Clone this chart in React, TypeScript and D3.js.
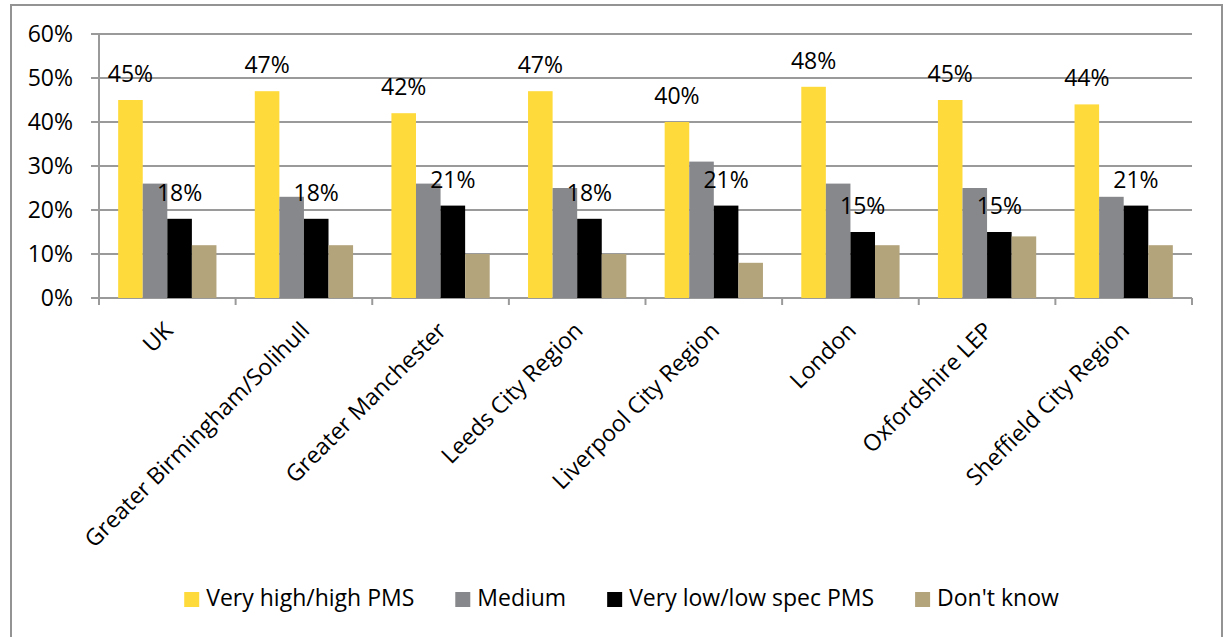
import React from "react";
import * as d3 from "d3";

const categories = [
  "UK",
  "Greater Birmingham/Solihull",
  "Greater Manchester",
  "Leeds City Region",
  "Liverpool City Region",
  "London",
  "Oxfordshire LEP",
  "Sheffield City Region",
];

const seriesNames = ["Very high/high PMS", "Medium", "Very low/low spec PMS", "Don't know"];
const seriesColors = ["#FFDA3B", "#87888C", "#000000", "#B3A47C"];

const veryHigh = [0.45, 0.47, 0.42, 0.47, 0.40, 0.48, 0.45, 0.44];
const medium = [0.26, 0.23, 0.26, 0.25, 0.31, 0.26, 0.25, 0.23];
const veryLow = [0.18, 0.18, 0.21, 0.18, 0.21, 0.15, 0.15, 0.21];
const dontKnow = [0.12, 0.12, 0.10, 0.10, 0.08, 0.12, 0.14, 0.12];

const seriesValues = [veryHigh, medium, veryLow, dontKnow];
// series that carry value labels above their bars
const labelledSeries = [0, 2];

const yTicks = [0, 0.1, 0.2, 0.3, 0.4, 0.5, 0.6];

const FONT = "'Open Sans', sans-serif";
const FS = 23;
const GRID = "#9A9A9A";

function measure(text: string): number {
  const c = document.createElement("canvas").getContext("2d");
  if (!c) return text.length * FS * 0.5;
  c.font = `${FS}px 'Open Sans'`;
  return c.measureText(text).width;
}

export default function App() {
  const left = 99;
  const right = 1192;
  const top = 34;
  const bottom = 298;

  const x0 = d3.scaleBand<string>().domain(categories).range([left, right]).padding(0);
  const x1 = d3
    .scaleBand<number>()
    .domain(d3.range(seriesNames.length))
    .range([0, x0.bandwidth()])
    .paddingInner(0)
    .paddingOuter(0.78);
  const y = d3.scaleLinear().domain([0, 0.6]).range([bottom, top]);
  const pct = d3.format(".0%");

  // legend layout
  const keySize = 15;
  const keyGap = 7;
  const itemGap = 41;
  const widths = seriesNames.map(measure);
  const totalW = d3.sum(widths) + seriesNames.length * (keySize + keyGap) + itemGap * (seriesNames.length - 1);
  let lx = 621.5 - totalW / 2;
  const legendItems = seriesNames.map((name, i) => {
    const item = { name, color: seriesColors[i], x: lx };
    lx += keySize + keyGap + widths[i] + itemGap;
    return item;
  });

  const boundaries = [...categories.map((c) => x0(c) as number), right];

  return (
    <svg
      width={1224}
      height={637}
      style={{ position: "absolute", left: 0, top: 0, display: "block", background: "#fff" }}
      fontFamily={FONT}
    >
      {/* chart frame; its lower edge runs past the visible area */}
      <rect x={11} y={5} width={1211} height={640} fill="#fff" stroke="#939393" strokeWidth={2} />

      {/* gridlines and y axis labels */}
      {yTicks.map((t) => (
        <g key={t}>
          <line x1={91} x2={right} y1={y(t)} y2={y(t)} stroke={GRID} strokeWidth={2} />
          <text x={73} y={y(t)} dy="0.35em" textAnchor="end" fontSize={FS} fill="#000">
            {pct(t)}
          </text>
        </g>
      ))}
      <line x1={left} x2={left} y1={top} y2={bottom + 7} stroke={GRID} strokeWidth={2} />
      {boundaries.map((bx, i) => (
        <line key={i} x1={bx} x2={bx} y1={bottom} y2={bottom + 7} stroke={GRID} strokeWidth={2} />
      ))}

      {/* bars */}
      {categories.map((cat, ci) => (
        <g key={cat} transform={`translate(${x0(cat)},0)`}>
          {seriesValues.map((vals, si) => (
            <rect
              key={si}
              x={x1(si)}
              y={y(vals[ci])}
              width={x1.bandwidth()}
              height={bottom - y(vals[ci])}
              fill={seriesColors[si]}
            />
          ))}
          {labelledSeries.map((si) => (
            <text
              key={`l${si}`}
              x={(x1(si) as number) + x1.bandwidth() / 2}
              y={y(seriesValues[si][ci]) - 18}
              textAnchor="middle"
              fontSize={FS}
              fill="#000"
            >
              {pct(seriesValues[si][ci])}
            </text>
          ))}
        </g>
      ))}

      {/* category labels */}
      {categories.map((cat) => {
        const cx = (x0(cat) as number) + x0.bandwidth() / 2 + 7;
        const cy = 332;
        return (
          <text
            key={cat}
            transform={`translate(${cx},${cy}) rotate(-45)`}
            textAnchor="end"
            fontSize={FS}
            fill="#000"
          >
            {cat}
          </text>
        );
      })}

      {/* legend */}
      {legendItems.map((it) => (
        <g key={it.name}>
          <rect x={it.x} y={592} width={keySize} height={keySize} fill={it.color} />
          <text x={it.x + keySize + keyGap} y={606} fontSize={FS} fill="#000">
            {it.name}
          </text>
        </g>
      ))}
    </svg>
  );
}
